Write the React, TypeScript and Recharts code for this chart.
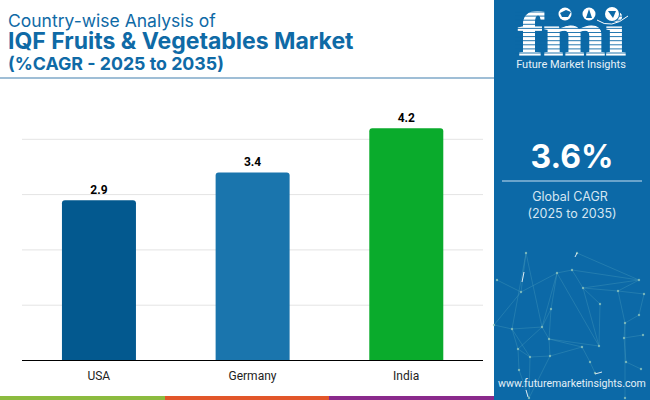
import { BarChart, Bar, XAxis, YAxis, CartesianGrid, Cell, LabelList } from 'recharts';

const COUNTRIES = ['USA', 'Germany', 'India'];
const CAGR = [2.9, 3.4, 4.2];
const BAR_COLORS = ['#03598f', '#1a75ad', '#0aab2c'];
const Y_TICKS = [0, 1, 2, 3, 4];

const TITLE_LIGHT = 'Country-wise Analysis of';
const TITLE_BOLD = 'IQF Fruits & Vegetables Market';
const TITLE_SUB = '(%CAGR - 2025 to 2035)';
const GLOBAL_VALUE = '3.6%';
const GLOBAL_LABEL = 'Global CAGR';
const GLOBAL_RANGE = '(2025 to 2035)';
const BRAND = 'Future Market Insights';
const SITE = 'www.futuremarketinsights.com';

const STRIPES = [
  { x: 0, w: 165, color: '#8cbb3f' },
  { x: 165, w: 164, color: '#e2562a' },
  { x: 329, w: 165, color: '#8a2a8c' },
];

// background network in the side panel, purely decorative
const NODES: [number, number][] = [
  [526, 253], [577, 253], [557, 273], [572, 270], [639, 280], [521, 292], [583, 288], [618, 291], [644, 294],
  [600, 304], [551, 309], [639, 315], [625, 323], [512, 329], [542, 327], [494, 325], [549, 339], [643, 335],
  [624, 338], [599, 346], [582, 347], [518, 349], [530, 357], [550, 356], [590, 362], [519, 370], [626, 362],
  [641, 369], [595, 373], [529, 398], [497, 280], [625, 398],
];
const LINKS: [number, number][] = [
  [0, 5], [0, 14], [0, 13], [5, 2], [2, 3], [3, 4], [1, 4], [2, 10], [10, 14], [2, 19], [3, 6], [6, 9], [9, 19],
  [6, 4], [6, 7], [7, 4], [7, 8], [8, 11], [7, 12], [11, 12], [12, 18], [18, 17], [12, 31], [14, 13], [15, 13],
  [30, 5], [13, 21], [14, 21], [10, 16], [16, 19], [16, 20], [20, 23], [23, 22], [22, 21], [21, 25], [25, 29],
  [23, 29], [22, 29], [20, 24], [24, 28], [14, 16], [16, 23], [6, 19], [26, 27], [18, 26], [15, 5], [13, 22], [2, 14],
];
const GLINTS: [number, number, number, number][] = [
  [522, 282, 524, 272], [575, 257, 577, 253], [595, 374, 602, 372], [526, 390, 528, 397],
];

const data = COUNTRIES.map((name, i) => ({ name, cagr: CAGR[i] }));

const font = 'Roboto, sans-serif';
const titleFont = 'Inter, sans-serif';
const PANEL = '#0c69a7';

function Backdrop() {
  const stripeRows = [];
  for (let y = 12; y < 56; y += 4.1) stripeRows.push(y);
  return (
    <svg width={650} height={400} style={{ position: 'absolute', left: 0, top: 0 }}>
      <rect x={494} y={0} width={156} height={400} fill={PANEL} />
      {LINKS.map(([a, b], i) => (
        <line
          key={i}
          x1={NODES[a][0]}
          y1={NODES[a][1]}
          x2={NODES[b][0]}
          y2={NODES[b][1]}
          stroke="#5fb0c6"
          strokeWidth={0.6}
          opacity={0.45}
        />
      ))}
      {NODES.map(([x, y], i) => (
        <circle key={i} cx={x} cy={y} r={1.2} fill="#8fc4bd" opacity={0.8} />
      ))}
      {GLINTS.map(([x1, y1, x2, y2], i) => (
        <line key={i} x1={x1} y1={y1} x2={x2} y2={y2} stroke="#fff" strokeWidth={1} opacity={0.85} />
      ))}
      <text
        x={572}
        y={55}
        textAnchor="middle"
        fontFamily="'Liberation Serif', serif"
        fontWeight={700}
        fontSize={62}
        fill="#fff"
        stroke="#fff"
        strokeWidth={1.2}
        textLength={108}
        lengthAdjust="spacingAndGlyphs"
      >
        fmi
      </text>
      {stripeRows.map((y) => (
        <line key={y} x1={515} x2={630} y1={y} y2={y} stroke={PANEL} strokeWidth={0.9} />
      ))}
      <circle cx={565} cy={14} r={7.5} fill={PANEL} />
      <circle cx={589} cy={14} r={7.5} fill={PANEL} />
      <circle cx={612} cy={14} r={8} fill={PANEL} />
      <circle cx={565} cy={14} r={6.5} fill="#fff" />
      <circle cx={589} cy={14} r={6.5} fill="#fff" />
      <circle cx={612} cy={14} r={7} fill="#fff" />
      <path d="M560 13 L566 10 L571 12 L568 17 L562 17 Z" fill={PANEL} />
      <path d="M589 9 L592 18 L586 18 Z" fill={PANEL} />
      <path d="M608 11 L616 11 L613 18 Z" fill={PANEL} />
      <path d="M597 20 Q611 30 628 16" stroke="#fff" strokeWidth={1} fill="none" />
      <text x={571} y={68} textAnchor="middle" fontFamily={font} fontSize={11} fill="#e6f1f8">
        {BRAND}
      </text>
      <text x={572} y={168} textAnchor="middle" fontFamily={titleFont} fontWeight={700} fontSize={32} fill="#fff">
        {GLOBAL_VALUE}
      </text>
      <line x1={502} x2={642} y1={181} y2={181} stroke="#8ab8d8" strokeWidth={1.5} />
      <text x={570} y={201} textAnchor="middle" fontFamily={titleFont} fontSize={12.5} fill="#d5e6f2">
        {GLOBAL_LABEL}
      </text>
      <text x={572} y={218} textAnchor="middle" fontFamily={titleFont} fontSize={12.5} fill="#d5e6f2">
        {GLOBAL_RANGE}
      </text>
      <text x={572} y={387} textAnchor="middle" fontFamily={font} fontSize={10.6} fill="#e3f0f8">
        {SITE}
      </text>
      <text x={8} y={27} fontFamily={titleFont} fontSize={17.5} fill="#0f6aa6">
        {TITLE_LIGHT}
      </text>
      <text x={8} y={49} fontFamily={titleFont} fontWeight={700} fontSize={23} fill="#0f6aa6">
        {TITLE_BOLD}
      </text>
      <text x={8} y={70} fontFamily={titleFont} fontWeight={700} fontSize={17.8} fill="#0f6aa6">
        {TITLE_SUB}
      </text>
      <line x1={0} x2={494} y1={78} y2={78} stroke="#7fa9c8" strokeWidth={1.5} />
      {STRIPES.map((s) => (
        <rect key={s.x} x={s.x} y={396} width={s.w} height={4} fill={s.color} />
      ))}
    </svg>
  );
}

export default function App() {
  return (
    <div style={{ position: 'absolute', left: 0, top: 0, width: 650, height: 400, background: '#fff', overflow: 'hidden' }}>
      <Backdrop />
      <div style={{ position: 'absolute', left: 0, top: 0 }}>
        <BarChart
          width={494}
          height={400}
          data={data}
          margin={{ top: 84, right: 11, bottom: 0, left: 22 }}
          barCategoryGap="26%"
        >
          <CartesianGrid stroke="#e4e4e4" vertical={false} horizontalValues={Y_TICKS} />
          <XAxis
            dataKey="name"
            axisLine={{ stroke: '#000', strokeWidth: 1 }}
            tickLine={false}
            tick={{ fill: '#222', fontSize: 12, fontFamily: font }}
            tickMargin={5}
            height={39.5}
          />
          <YAxis hide domain={[0, 5]} ticks={Y_TICKS} />
          <Bar dataKey="cagr" radius={[3, 3, 0, 0]} isAnimationActive={false}>
            {data.map((_, i) => (
              <Cell key={i} fill={BAR_COLORS[i]} />
            ))}
            <LabelList dataKey="cagr" position="top" offset={6} fill="#000" fontSize={12} fontWeight={700} fontFamily={font} />
          </Bar>
        </BarChart>
      </div>
    </div>
  );
}
